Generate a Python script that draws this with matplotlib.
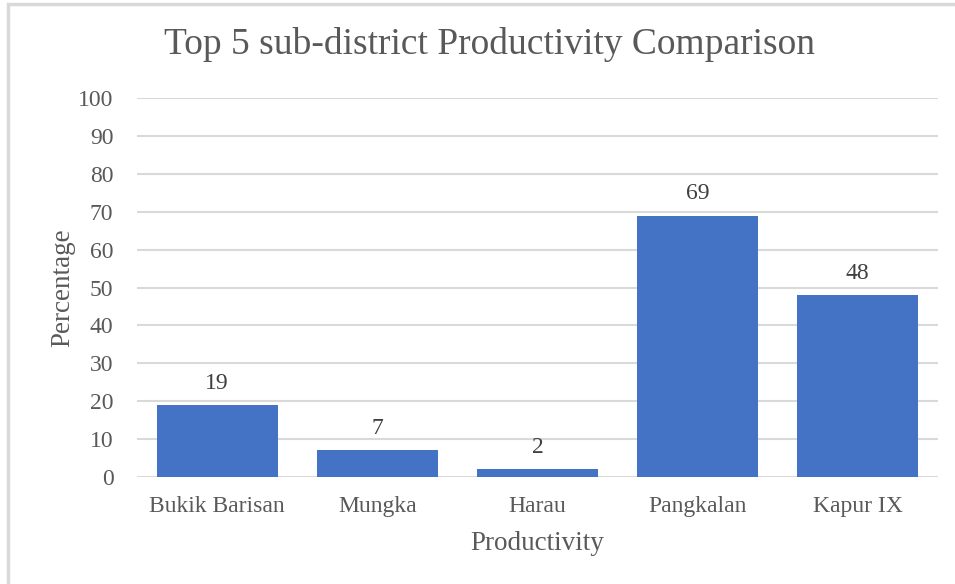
import matplotlib.pyplot as plt
from matplotlib.patches import Rectangle

# data
districts = ['Bukik Barisan', 'Mungka', 'Harau', 'Pangkalan', 'Kapur IX']
productivity = [19, 7, 2, 69, 48]
yticks = list(range(0, 101, 10))

plt.rcParams['font.family'] = ['Liberation Serif', 'DejaVu Serif']
txt = '#595959'

fig = plt.figure(figsize=(9.55, 5.84), dpi=100)
ax = fig.add_axes([0.1435, 0.1832, 0.8385, 0.6488])

bars = ax.bar(districts, productivity, width=0.755, color='#4472c4', zorder=3)
for b, v in zip(bars, productivity):
    ax.text(b.get_x() + b.get_width() / 2, v + 3, str(v), ha='center', va='bottom',
            fontsize=17, color='#404040')

ax.set_ylim(0, 100)
ax.set_xlim(-0.5, 4.5)
ax.set_yticks(yticks)
ax.grid(axis='y', color='#d9d9d9', linewidth=1.5, zorder=0)
for s in ax.spines.values():
    s.set_visible(False)
ax.tick_params(length=0, labelsize=17, labelcolor=txt)
ax.tick_params(axis='y', pad=17)
ax.tick_params(axis='x', pad=14)

ax.set_xlabel('Productivity', fontsize=19.5, color=txt, labelpad=10)
ax.set_ylabel('Percentage', fontsize=19.5, color=txt, labelpad=2)
fig.text(0.513, 0.923, 'Top 5 sub-district Productivity Comparison', ha='center', va='center',
         fontsize=27, color=txt)

# chart border (left and top visible)
fig.patches.append(Rectangle((0.008, -0.05), 1.1, 1.043, transform=fig.transFigure,
                             fill=False, edgecolor='#d9d9d9', linewidth=2.5))

fig.savefig('out.png', dpi=100)
